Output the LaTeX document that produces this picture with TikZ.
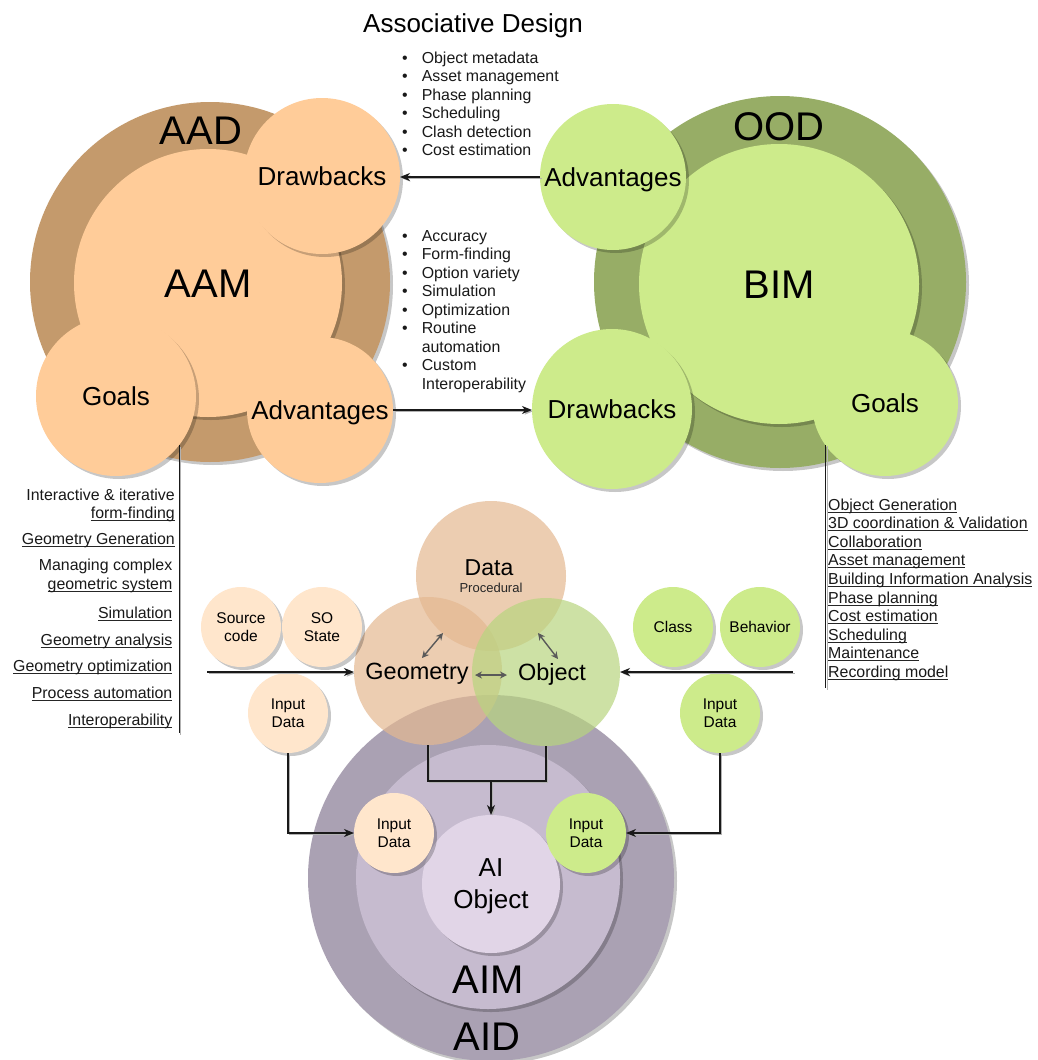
\documentclass[tikz,border=0pt]{standalone}
\usepackage{fontspec}
\setmainfont{Liberation Sans}
\usetikzlibrary{shadows,arrows.meta,calc}

\definecolor{aadring}{RGB}{196,154,108}
\definecolor{peach}{RGB}{255,204,153}
\definecolor{peachlight}{RGB}{255,230,204}
\definecolor{oodring}{RGB}{151,173,102}
\definecolor{lime}{RGB}{205,235,139}
\definecolor{aidring}{RGB}{170,161,179}
\definecolor{aimfill}{RGB}{198,187,207}
\definecolor{aiobj}{RGB}{225,213,231}
\definecolor{datatan}{RGB}{228,184,145}
\definecolor{objgreen}{RGB}{184,213,127}

% underline at a fixed distance below the baseline
\newcommand\ulin[1]{\setbox0=\hbox{#1}\rlap{\color{black!85}\rule[-2.5pt]{\wd0}{1pt}}\box0}

\begin{document}
\begin{tikzpicture}[x=1pt,y=-1pt,
  shadowed/.style={drop shadow={shadow xshift=3pt,shadow yshift=-3pt,opacity=0.22,fill=black}},
  disc/.style={circle,inner sep=0pt,outer sep=0pt,minimum size=2*#1pt},
  t40/.style={font=\fontsize{40}{46}\selectfont,text height=28.6pt,text depth=0pt},
  t26/.style={font=\fontsize{26}{31}\selectfont,text height=18.6pt,text depth=0pt},
  t235/.style={font=\fontsize{23.5}{28}\selectfont,text height=16.8pt,text depth=0pt},
  t155/.style={font=\fontsize{15.5}{18}\selectfont,align=center},
  one/.style={text height=11.1pt,text depth=0pt},
  listfont/.style={font=\fontsize{15.9}{18.5}\selectfont,text=black!90},
  lshadow/.style={preaction={draw=black!30,transform canvas={xshift=1.5pt,yshift=-1.5pt}}},
  conn/.style={draw=black!90,line width=1.2pt},
  arr/.style={conn,-{Stealth[length=10pt,width=8pt,inset=3pt]}},
  dbl/.style={draw=black!65,line width=1.4pt,
    {Stealth[length=7pt,width=7pt]}-{Stealth[length=7pt,width=7pt]}},
]
\useasboundingbox (0,0) rectangle (1037,1060);
\fill[white] (0,0) rectangle (1037,1060);

% ---------- title ----------
\node[font=\fontsize{26}{31}\selectfont,anchor=base] (title) at (473,32) {Associative Design};

% ---------- AAD group ----------
\node[disc=180,fill=aadring,shadowed] (aad) at (210,282) {};
\node[t40] (aadlbl) at (201,130) {AAD};
\node[disc=134,fill=peach,shadowed,t40] (aam) at (208,283) {AAM};
\node[disc=78,fill=peach,shadowed,t26] (aaddrw) at (322,176) {Drawbacks};
\node[disc=80,fill=peach,shadowed,t26] (aadgoal) at (116,396) {Goals};
\node[disc=73,fill=peach,shadowed,t26] (aadadv) at (320,410) {Advantages};

% ---------- OOD group ----------
\node[disc=186,fill=oodring,shadowed] (ood) at (780,282) {};
\node[t40] (oodlbl) at (779,126) {OOD};
\node[disc=140,fill=lime,shadowed,t40] (bim) at (779,284) {BIM};
\node[disc=73,fill=lime,shadowed,t26] (oodadv) at (613,177) {Advantages};
\node[disc=80,fill=lime,shadowed,t26] (ooddrw) at (612,409) {Drawbacks};
\node[disc=73,fill=lime,shadowed,t26] (oodgoal) at (885,403) {Goals};

% ---------- links between AAD and OOD ----------
\draw[arr,lshadow] (oodadv.west) -- (aaddrw.east |- oodadv.west);
\draw[arr,lshadow] (aadadv.east) -- (ooddrw.west |- aadadv.east);

% ---------- bullet lists ----------
\node[listfont,anchor=north west,inner sep=0pt] (bimadv) at (402,50) {%
\begin{tabular}{@{}l@{\hspace{14pt}}l@{}}
\textbullet & Object metadata\\
\textbullet & Asset management\\
\textbullet & Phase planning\\
\textbullet & Scheduling\\
\textbullet & Clash detection\\
\textbullet & Cost estimation
\end{tabular}};
\node[listfont,anchor=north west,inner sep=0pt] (aamadv) at (402,228) {%
\begin{tabular}{@{}l@{\hspace{14pt}}l@{}}
\textbullet & Accuracy\\
\textbullet & Form-finding\\
\textbullet & Option variety\\
\textbullet & Simulation\\
\textbullet & Optimization\\
\textbullet & Routine\\
 & automation\\
\textbullet & Custom\\
 & Interoperability
\end{tabular}};

% ---------- goals lists ----------
\coordinate (lend) at (179,733);
\draw[conn,line width=1pt,lshadow] (aadgoal.-38) -- (aadgoal.-38 |- lend);
\foreach \xx/\yy/\tx [count=\i] in {
  175/500/Interactive \& iterative,
  175/518.5/\ulin{form-finding},
  175/544/\ulin{Geometry Generation},
  172.5/570.5/Managing complex,
  172.5/589/\ulin{geometric system},
  172.5/618.5/\ulin{Simulation},
  172.5/645/\ulin{Geometry analysis},
  172.5/671.5/\ulin{Geometry optimization},
  172.5/698.5/\ulin{Process automation},
  172.5/725/\ulin{Interoperability}}
  \node[listfont,anchor=base east,inner sep=0pt] (aamgoal\i) at (\xx,\yy) {\tx};

\coordinate (rend) at (825,688);
\draw[conn,line width=1pt,lshadow] (oodgoal.-145) -- (oodgoal.-145 |- rend);
\foreach \tx [count=\i] in {
  Object Generation, 3D coordination \& Validation, Collaboration,
  Asset management, Building Information Analysis, Phase planning,
  Cost estimation, Scheduling, Maintenance, Recording model}
  \node[listfont,anchor=base west,inner sep=0pt] (bimgoal\i) at (828,{510+18.6*(\i-1)}) {\ulin{\tx}};

% ---------- AID group ----------
\node[disc=183,fill=aidring,shadowed] (aid) at (491,878) {};
\node[disc=132,fill=aimfill,shadowed] (aim) at (488,877) {};
\node[disc=69,fill=aiobj,shadowed,font=\fontsize{26}{31.7}\selectfont,align=center] (aiobj) at (491,884) {AI\\Ob\smash{j}ect};
\node[t40] (aimlbl) at (488,979) {AIM};
\node[t40] (aidlbl) at (487,1036) {AID};
\node[disc=40,fill=peachlight,shadowed,t155] (inL) at (394,833) {Input\\Data};
\node[disc=40,fill=lime,shadowed,t155] (inR) at (586,833) {Input\\Data};

% ---------- Data / Geometry / Object ----------
\node[disc=75,fill=datatan,fill opacity=0.7] (data) at (491,576) {};
\node[disc=74,fill=datatan,fill opacity=0.7] (geom) at (428,671) {};
\node[disc=74,fill=objgreen,fill opacity=0.7] (obj) at (546,672) {};
\node[font=\fontsize{23}{27}\selectfont,anchor=base] (datalbl) at (489,575) {Data};
\node[font=\fontsize{13}{15}\selectfont,anchor=base,text=black!85] (proclbl) at (491,592) {Procedural};
\node[t235] (geomlbl) at (417,671) {Geometry};
\node[t235] (objlbl) at (552,672) {Object};

\coordinate (g1) at (422,658); \coordinate (d1) at (443,633);
\coordinate (d2) at (538,633); \coordinate (o1) at (558,659);
\coordinate (g2) at (475,675); \coordinate (o2) at (507,675);
\draw[dbl] (g1) -- (d1);
\draw[dbl] (d2) -- (o1);
\draw[dbl] (g2) -- (o2);

% ---------- inputs on both sides ----------
\node[disc=40,fill=peachlight,shadowed,t155] (src) at (241,627) {Source\\code};
\node[disc=40,fill=peachlight,shadowed,t155] (so) at (322,627) {SO\\State};
\node[disc=40,fill=peachlight,shadowed,t155] (inA) at (288,713) {Input\\Data};
\node[disc=40,fill=lime,shadowed,t155,one] (cls) at (673,627) {Class};
\node[disc=40,fill=lime,shadowed,t155,one] (beh) at (760,627) {Behavior};
\node[disc=40,fill=lime,shadowed,t155] (inB) at (720,713) {Input\\Data};

\coordinate (lstart) at (207,672);
\coordinate (rstart) at (793,672);
\draw[arr,lshadow] (lstart) -- (geom.west |- lstart);
\draw[arr,lshadow] (rstart) -- (obj.east |- rstart);
\draw[arr,lshadow] (inA.south) |- (inL.west);
\draw[arr,lshadow] (inB.south) |- (inR.east);

\coordinate (brk) at (491,781);
\draw[conn,lshadow] (geom.south) |- (brk) -| (obj.south);
\draw[arr,lshadow] (brk) -- (brk |- aiobj.north);
\end{tikzpicture}
\end{document}
